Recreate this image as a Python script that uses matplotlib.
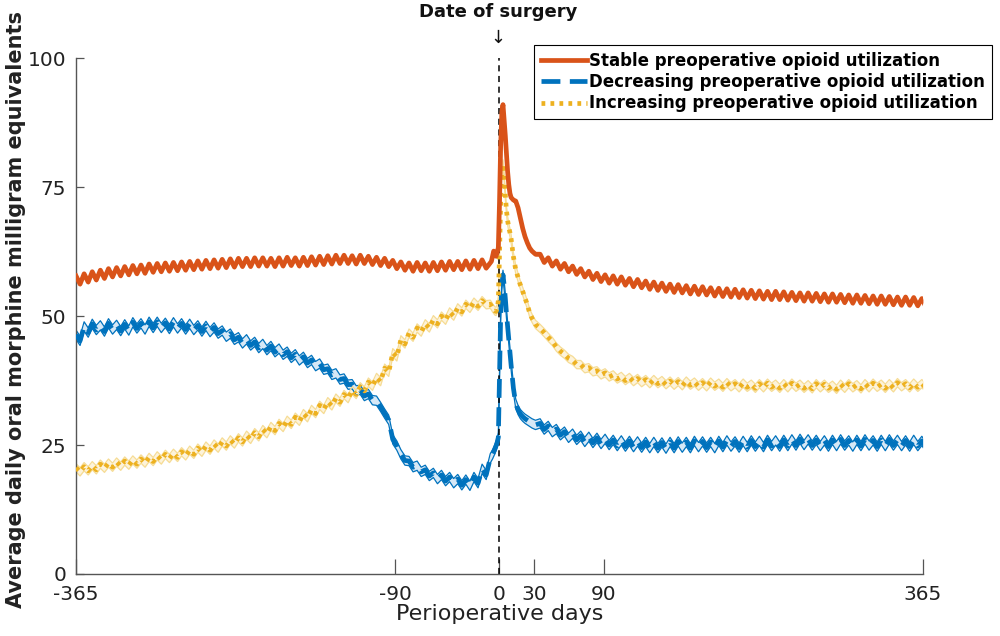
import numpy as np
import matplotlib
matplotlib.use('Agg')
import matplotlib.pyplot as plt

plt.rcParams['font.family'] = ['DejaVu Sans']
plt.rcParams['axes.unicode_minus'] = False

# Weekly values before surgery (days -365 .. -15, every 7 days)
pre_days = np.arange(-365, -14, 7)
stable_pre = [57.0, 57.4, 57.8, 58.1, 58.4, 58.6, 58.8, 59.0, 59.1, 59.3,
              59.4, 59.5, 59.6, 59.7, 59.8, 59.9, 60.0, 60.1, 60.2, 60.3,
              60.4, 60.4, 60.5, 60.5, 60.4, 60.5, 60.6, 60.5, 60.6, 60.7,
              60.8, 60.9, 61.0, 61.0, 60.9, 61.0, 60.8, 60.6, 60.4, 60.0,
              59.7, 59.5, 59.6, 59.5, 59.6, 59.7, 59.8, 59.8, 59.9, 60.0,
              60.1]
decr_pre = [45.8, 47.4, 47.9, 47.6, 48.0, 47.7, 47.8, 48.2, 48.0, 48.3,
            48.3, 48.1, 48.2, 48.0, 47.9, 47.6, 47.5, 47.2, 46.6, 46.0,
            45.3, 44.9, 44.4, 44.0, 43.6, 43.1, 42.5, 42.0, 41.5, 40.9,
            40.2, 39.2, 38.3, 37.3, 36.2, 35.1, 34.3, 33.0, 30.5, 25.5,
            22.6, 21.3, 20.4, 19.6, 19.0, 18.6, 18.2, 17.8, 17.7, 18.2,
            19.8]
incr_pre = [20.2, 20.4, 20.6, 20.9, 21.1, 21.3, 21.5, 21.7, 21.9, 22.2,
            22.5, 22.8, 23.0, 23.3, 23.6, 24.0, 24.4, 24.8, 25.2, 25.6,
            26.0, 26.5, 27.0, 27.6, 28.2, 28.8, 29.4, 30.0, 30.7, 31.5,
            32.3, 33.0, 33.7, 34.4, 35.2, 35.9, 36.8, 37.7, 39.5, 42.5,
            45.0, 46.3, 47.3, 48.1, 48.9, 49.6, 50.4, 51.2, 51.9, 52.3,
            52.6]

# Values around the date of surgery
peri_days = [-8, -7, -6, -5, -4, -3, -2, -1, 0, 1, 2, 3, 4, 5, 6, 7, 8, 9,
             10, 12, 14, 16, 18, 20, 22, 24, 26, 28, 31]
stable_peri = [60.3, 60.6, 61.6, 62.6, 62.0, 61.6, 62.3, 63.3, 72.0, 83.0,
               89.5, 91.0, 88.0, 85.0, 81.5, 78.0, 75.5, 73.8, 73.0, 72.5,
               72.3, 71.0, 69.0, 67.0, 65.4, 64.2, 63.2, 62.6, 62.0]
decr_peri = [22.4, 22.8, 23.2, 23.7, 24.2, 24.8, 25.5, 26.5, 38.0, 50.0,
             56.0, 58.0, 56.0, 53.5, 50.5, 48.0, 45.5, 43.0, 40.5, 36.0,
             33.0, 31.8, 31.0, 30.5, 30.1, 29.8, 29.5, 29.2, 28.9]
incr_peri = [52.3, 52.0, 51.6, 51.3, 51.0, 50.9, 51.5, 53.0, 62.0, 72.0,
             78.0, 79.5, 77.0, 73.5, 70.5, 68.5, 67.2, 66.2, 65.0, 61.5,
             59.0, 57.5, 56.0, 54.8, 53.5, 52.2, 50.6, 49.6, 48.4]

# Weekly values after surgery (days 35 .. 364)
post_days = np.arange(35, 365, 7)
stable_post = [61.2, 60.5, 59.9, 59.4, 58.9, 58.4, 57.9, 57.5, 57.2, 57.0,
               56.8, 56.5, 56.3, 56.0, 55.8, 55.6, 55.4, 55.3, 55.1, 55.0,
               54.9, 54.7, 54.6, 54.5, 54.4, 54.3, 54.2, 54.1, 54.0, 54.0,
               53.9, 53.8, 53.7, 53.7, 53.6, 53.5, 53.5, 53.4, 53.3, 53.3,
               53.2, 53.1, 53.1, 53.0, 52.9, 52.9, 52.8, 52.6]
decr_post = [28.6, 28.1, 27.5, 27.0, 26.6, 26.2, 26.0, 25.8, 25.6, 25.4,
             25.3, 25.2, 25.1, 25.0, 25.0, 24.9, 25.0, 25.1, 25.0, 25.2,
             25.1, 25.0, 25.2, 25.3, 25.1, 25.2, 25.3, 25.2, 25.4, 25.3,
             25.4, 25.5, 25.6, 25.5, 25.4, 25.3, 25.4, 25.5, 25.3, 25.4,
             25.5, 25.3, 25.4, 25.5, 25.4, 25.3, 25.4, 25.2]
incr_post = [47.2, 45.5, 43.6, 42.2, 41.0, 40.2, 39.6, 39.0, 38.6, 38.2,
             37.9, 37.7, 37.5, 37.3, 37.3, 37.1, 37.0, 36.9, 37.0, 36.8,
             36.7, 36.8, 36.6, 36.7, 36.5, 36.6, 36.4, 36.5, 36.6, 36.4,
             36.5, 36.6, 36.4, 36.3, 36.5, 36.4, 36.2, 36.4, 36.5, 36.3,
             36.5, 36.6, 36.4, 36.5, 36.7, 36.5, 36.6, 36.5]

# within-week swing and confidence half-width
swing = {'stable': 0.8, 'decr': 0.6, 'incr': 0.4}
ci_half = {'stable': 0.45, 'decr': 0.9, 'incr': 0.8}

labels = ['Stable preoperative opioid utilization',
          'Decreasing preoperative opioid utilization',
          'Increasing preoperative opioid utilization']
colors = {'stable': '#D95319', 'decr': '#0072BD', 'incr': '#EDB120'}
xticks = [-365, -90, 0, 30, 90, 365]
yticks = [0, 25, 50, 75, 100]


def weekly_zigzag(days, vals, s):
    # each week: a high day followed by a low day half a week later
    vals = np.asarray(vals)
    x = np.column_stack([days, days + 3.5]).ravel()
    y = np.column_stack([vals + s, vals - s]).ravel()
    return x, y


def build(key, pre, peri, post):
    x1, y1 = weekly_zigzag(pre_days, pre, swing[key])
    x3, y3 = weekly_zigzag(post_days, post, swing[key])
    x = np.concatenate([x1, peri_days, x3])
    y = np.concatenate([y1, peri, y3])
    return x, y


series = {'stable': build('stable', stable_pre, stable_peri, stable_post),
          'decr': build('decr', decr_pre, decr_peri, decr_post),
          'incr': build('incr', incr_pre, incr_peri, incr_post)}

fig = plt.figure(figsize=(10, 6.36), dpi=100)
ax = fig.add_axes([0.076, 0.0975, 0.847, 0.811])

# confidence bands
band_fill = {'stable': '#f2b49a', 'decr': '#d6e8f6', 'incr': '#fdf3da'}
band_line = {'stable': '#e07a4a', 'decr': '#0072BD', 'incr': '#f6dc95'}
for key in ['decr', 'incr', 'stable']:
    x, y = series[key]
    lo, hi = y - ci_half[key], y + ci_half[key]
    ax.fill_between(x, lo, hi, color=band_fill[key], lw=0, zorder=1)
    if key != 'stable':
        ax.plot(x, lo, color=band_line[key], lw=0.9, zorder=1.5)
        ax.plot(x, hi, color=band_line[key], lw=0.9, zorder=1.5)

ax.plot([0, 0], [0, 100], color='black', lw=1.1, ls=(0, (4, 3)), zorder=2)

x, y = series['decr']
h_decr, = ax.plot(x, y, color=colors['decr'], lw=3.4, ls=(0, (4, 2)),
                  zorder=3, label=labels[1])
x, y = series['incr']
h_incr, = ax.plot(x, y, color=colors['incr'], lw=3.4, ls=(0, (0.8, 1.1)),
                  zorder=4, label=labels[2])
x, y = series['stable']
h_stab, = ax.plot(x, y, color=colors['stable'], lw=3.4, zorder=5,
                  label=labels[0])

ax.set_xlim(-365, 365)
ax.set_ylim(0, 100)
ax.set_xticks(xticks)
ax.set_yticks(yticks)
ax.tick_params(axis='both', direction='in', labelsize=14.5, colors='#555555',
               labelcolor='#222222', width=0.9)
ax.tick_params(axis='x', length=11, pad=8)
ax.tick_params(axis='y', length=6, pad=7)
for side in ['top', 'right']:
    ax.spines[side].set_visible(False)
for side in ['left', 'bottom']:
    ax.spines[side].set_color('#555555')
    ax.spines[side].set_linewidth(1.0)

ax.set_xlabel('Perioperative days', fontsize=16, color='#222222', labelpad=0)
fig.text(0.016, 0.514, 'Average daily oral morphine milligram equivalents',
         rotation=90, ha='center', va='center', fontsize=15,
         fontweight='bold', color='#222222')

fig.text(0.498, 0.981, 'Date of surgery', ha='center', va='center',
         fontsize=13, fontweight='bold', color='#111111')
fig.text(0.498, 0.941, '\u2193', ha='center', va='center', fontsize=13,
         color='#111111')

leg = ax.legend(handles=[h_stab, h_decr, h_incr], loc='upper right',
                bbox_to_anchor=(0.992, 0.929), bbox_transform=fig.transFigure,
                prop={'size': 12, 'weight': 'bold'}, frameon=True,
                fancybox=False, edgecolor='black', framealpha=1,
                handlelength=2.8, handletextpad=0.12, labelspacing=0.2,
                borderpad=0.4, borderaxespad=0)
leg.get_frame().set_linewidth(0.8)

fig.savefig('out.png', dpi=100)
